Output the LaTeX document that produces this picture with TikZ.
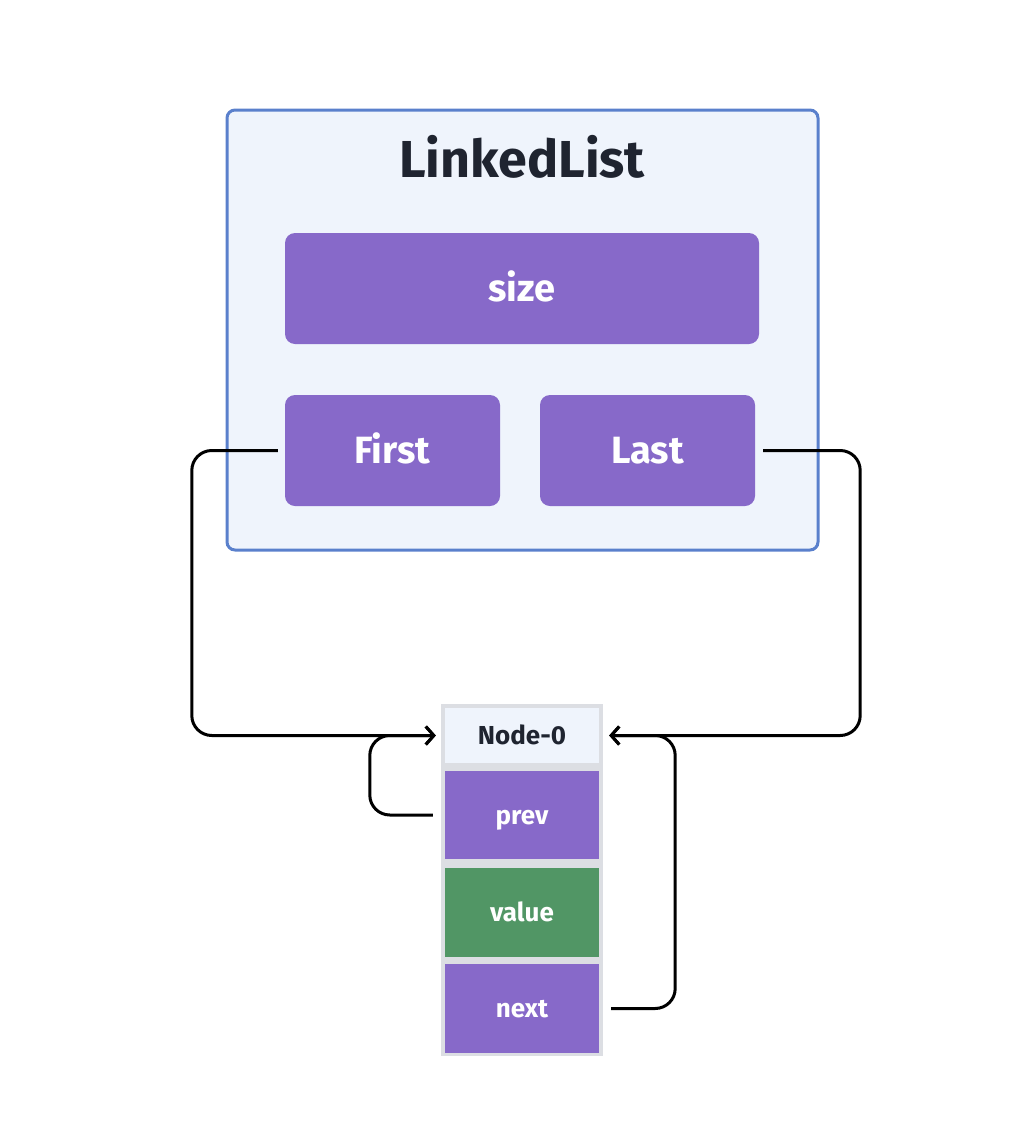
\documentclass[tikz,border=0pt]{standalone}
\usepackage{fontspec}
\setmainfont{Fira Sans}
\usetikzlibrary{arrows.meta}
\definecolor{fieldcol}{HTML}{8769C9}
\definecolor{valcol}{HTML}{519665}
\definecolor{boxline}{HTML}{5A80CC}
\definecolor{boxfill}{HTML}{EFF4FC}
\definecolor{darktext}{HTML}{1F2430}
\definecolor{stackgray}{HTML}{DCDEE3}
\begin{document}
\begin{tikzpicture}[x=1pt,y=-1pt,
  field/.style={fill=fieldcol,rounded corners=10pt,text=white,inner sep=0pt,
    text height=26pt,text depth=0pt,
    font=\bfseries\fontsize{38}{44}\selectfont,minimum width=215pt,minimum height=111pt},
  cell/.style={fill=fieldcol,text=white,inner sep=0pt,
    text height=18pt,text depth=0pt,
    font=\bfseries\fontsize{26}{30}\selectfont,minimum width=154pt,minimum height=88pt},
  link/.style={draw=black,line width=3pt,rounded corners=20pt,
    -{Straight Barb[length=8pt,width=18pt]}}]
\useasboundingbox (0,0) rectangle (1032,1146);

\node[draw=boxline,fill=boxfill,line width=3pt,rounded corners=8pt,minimum width=591pt,minimum height=440pt] (ll) at (522.5,330) {};
\node[text=darktext,text height=36pt,text depth=0pt,font=\bfseries\fontsize{52}{60}\selectfont] (title) at (522,159) {LinkedList};
\node[field,minimum width=474pt] (size) at (522,288.5) {size};
\node[field] (first) at (392.5,450.5) {First};
\node[field] (last) at (647.5,450.5) {Last};

\node[fill=stackgray,minimum width=162pt,minimum height=352pt,inner sep=0pt] (node0) at (522,880) {};
\node[cell,fill=boxfill,text=darktext,minimum height=55pt] (hdr) at (522,735.5) {Node-0};
\node[cell] (prev) at (522,815) {prev};
\node[cell,fill=valcol,minimum height=89pt] (val) at (522,912.5) {value};
\node[cell,minimum height=89pt] (next) at (522,1008.5) {next};

\draw[link] ([xshift=-7pt]first.west) -- ++(-86,0) |- ([xshift=-9pt]hdr.west);
\draw[link] ([xshift=8pt]last.east) -- ++(97,0) |- ([xshift=10pt]hdr.east);
\draw[link] ([xshift=-12pt]prev.west) -- ++(-63,0) |- ([xshift=-9pt]hdr.west);
\draw[link] ([xshift=12pt]next.east) -- ++(64,0) |- ([xshift=10pt]hdr.east);

\end{tikzpicture}
\end{document}
